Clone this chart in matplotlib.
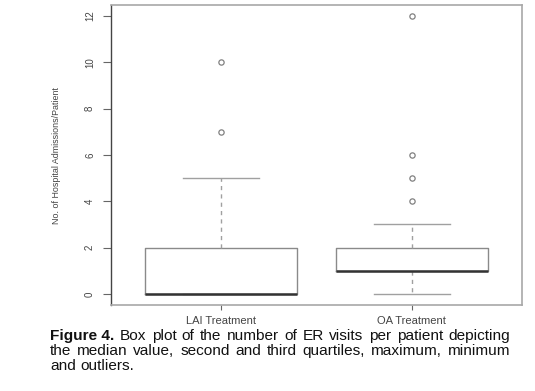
import matplotlib
matplotlib.use("Agg")
import matplotlib.pyplot as plt

categories = ["LAI Treatment", "OA Treatment"]
q1 = [0, 1]
medians = [0, 1]
q3 = [2, 2]
whisker_low = [0, 0]
whisker_high = [5, 3]
outliers = [[7, 10], [4, 5, 6, 12]]
yticks = [0, 2, 4, 6, 8, 10, 12]
ylabel = "No. of Hospital Admissions/Patient"
caption_bold = "Figure 4."
caption_lines = [
    "Box plot of the number of ER visits per patient depicting",
    "the median value, second and third quartiles, maximum, minimum",
    "and outliers.",
]

W, H = 535, 391
fig = plt.figure(figsize=(W / 100, H / 100), dpi=100)
ax = fig.add_axes([111 / W, 1 - 305 / H, (522 - 111) / W, 300 / H])

stats = []
for i in range(len(categories)):
    stats.append(dict(med=medians[i], q1=q1[i], q3=q3[i],
                      whislo=whisker_low[i], whishi=whisker_high[i],
                      fliers=outliers[i], label=categories[i]))

grey = "#a0a0a0"
ax.bxp(stats, positions=[1, 2], widths=0.8, showfliers=True,
       boxprops=dict(color="#8a8a8a", linewidth=1.0),
       whiskerprops=dict(color=grey, linewidth=1.0, linestyle=(0, (3, 3))),
       capprops=dict(color=grey, linewidth=1.0),
       medianprops=dict(color="#333333", linewidth=1.8),
       flierprops=dict(marker="o", markersize=3.8, markerfacecolor="none",
                       markeredgecolor="#808080", markeredgewidth=0.9),
       capwidths=0.4)

ax.set_xlim(0.42, 2.58)
ax.set_ylim(-0.48, 12.48)
ax.set_yticks(yticks)
ax.set_yticklabels([str(v) for v in yticks], rotation=90, va="center",
                   fontsize=7, family="Liberation Sans", color="#444444")
ax.set_xticks([1, 2])
ax.set_xticklabels(categories, fontsize=8, family="Liberation Sans", color="#444444")
ax.tick_params(axis="y", length=5.5, width=0.8, color="#666666", pad=6)
ax.tick_params(axis="x", length=3.6, width=0.8, color="#666666", pad=4.0)
for s in ["top", "right", "bottom"]:
    ax.spines[s].set_color("#a8a8a8")
    ax.spines[s].set_linewidth(1.2)
ax.spines["left"].set_color("#444444")
ax.spines["left"].set_linewidth(1.0)
ax.set_ylabel(ylabel, fontsize=6.4, family="Liberation Sans", color="#444444", labelpad=17)

# caption, justified lines
fig.canvas.draw()
renderer = fig.canvas.get_renderer()
left_px, right_px = 50, 510
baselines = [340, 355, 370]
fs = 11.1
probe_a = fig.text(0, 0, "a", fontsize=fs, family="Liberation Sans")
probe_b = fig.text(0, 0, "a a", fontsize=fs, family="Liberation Sans")
space_w = probe_b.get_window_extent(renderer).width - 2 * probe_a.get_window_extent(renderer).width
probe_a.remove()
probe_b.remove()
for li, line in enumerate(caption_lines):
    items = []
    if li == 0:
        items.append((caption_bold, "bold"))
    items += [(w, "normal") for w in line.split(" ")]
    texts = []
    for w, wt in items:
        t = fig.text(0, 1 - baselines[li] / H, w, fontsize=fs, fontweight=wt,
                     family="Liberation Sans", va="baseline", ha="left", color="#111111")
        texts.append(t)
    widths = [t.get_window_extent(renderer).width for t in texts]
    if li < len(caption_lines) - 1:
        gap = (right_px - left_px - sum(widths)) / (len(texts) - 1)
    else:
        gap = space_w
    x = left_px
    for t, w in zip(texts, widths):
        t.set_x(x / W)
        x += w + gap

fig.savefig("out.png", dpi=100)
